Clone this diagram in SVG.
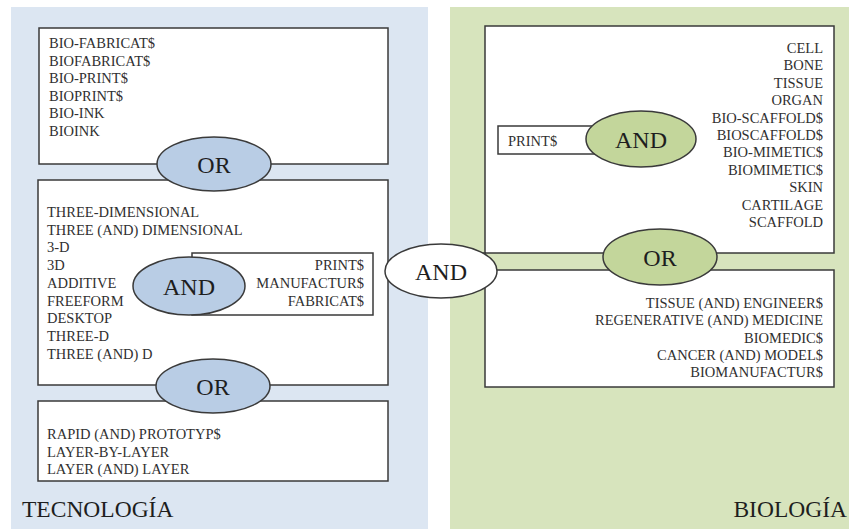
<svg xmlns="http://www.w3.org/2000/svg" width="849" height="529" viewBox="0 0 849 529">
  <style>
    .panel-tec { fill: #dce6f2; }
    .panel-bio { fill: #d7e4bd; }
    .box { fill: #ffffff; stroke: #3a3a3a; stroke-width: 1.5; }
    .op-blue { fill: #b9cde5; stroke: #3a3a3a; stroke-width: 1.5; }
    .op-green { fill: #c3d69b; stroke: #3a3a3a; stroke-width: 1.5; }
    .op-white { fill: #ffffff; stroke: #3a3a3a; stroke-width: 1.5; }
    .link { stroke: #3a3a3a; stroke-width: 1.5; fill: none; }
    .term { font-family: "Liberation Serif", "Times New Roman", serif; font-size: 14.5px; fill: #303030; }
    .right { text-anchor: end; }
    .op { font-family: "Liberation Serif", "Times New Roman", serif; font-size: 24px; fill: #1e1e1e; text-anchor: middle; }
    .title { font-family: "Liberation Serif", "Times New Roman", serif; font-size: 23.5px; fill: #1e1e1e; }
  </style>

  <rect width="849" height="529" fill="#ffffff"/>

  <!-- Background panels -->
  <rect id="panel-tecnologia" class="panel-tec" x="11" y="7" width="417" height="522"/>
  <rect id="panel-biologia" class="panel-bio" x="450" y="7" width="399" height="522"/>

  <!-- Technology terms -->
  <g id="tec-box1">
    <rect class="box" x="39" y="28" width="349" height="136"/>
    <text class="term" x="49" y="48">BIO-FABRICAT$</text>
    <text class="term" x="49" y="65.5">BIOFABRICAT$</text>
    <text class="term" x="49" y="83">BIO-PRINT$</text>
    <text class="term" x="49" y="100.5">BIOPRINT$</text>
    <text class="term" x="49" y="118">BIO-INK</text>
    <text class="term" x="49" y="135.5">BIOINK</text>
  </g>

  <g id="tec-box2">
    <rect class="box" x="38" y="180" width="350" height="205"/>
    <text class="term" x="47" y="217">THREE-DIMENSIONAL</text>
    <text class="term" x="47" y="234.7">THREE (AND) DIMENSIONAL</text>
    <text class="term" x="47" y="252.4">3-D</text>
    <text class="term" x="47" y="270.1">3D</text>
    <text class="term" x="47" y="287.8">ADDITIVE</text>
    <text class="term" x="47" y="305.5">FREEFORM</text>
    <text class="term" x="47" y="323.2">DESKTOP</text>
    <text class="term" x="47" y="340.9">THREE-D</text>
    <text class="term" x="47" y="358.6">THREE (AND) D</text>
  </g>

  <g id="tec-print-box">
    <rect class="box" x="192" y="253" width="181" height="62"/>
    <text class="term right" x="364" y="270">PRINT$</text>
    <text class="term right" x="364" y="288">MANUFACTUR$</text>
    <text class="term right" x="364" y="306">FABRICAT$</text>
  </g>

  <g id="tec-and">
    <ellipse class="op-blue" cx="189" cy="286" rx="56" ry="29"/>
    <text class="op" x="189" y="294.5">AND</text>
  </g>

  <g id="tec-box3">
    <rect class="box" x="38" y="401" width="350" height="80"/>
    <text class="term" x="47" y="439">RAPID (AND) PROTOTYP$</text>
    <text class="term" x="47" y="456.5">LAYER-BY-LAYER</text>
    <text class="term" x="47" y="474">LAYER (AND) LAYER</text>
  </g>

  <g id="tec-or1">
    <ellipse class="op-blue" cx="214" cy="164" rx="57" ry="27"/>
    <text class="op" x="214" y="173">OR</text>
  </g>

  <g id="tec-or2">
    <ellipse class="op-blue" cx="213" cy="386" rx="57" ry="27"/>
    <text class="op" x="213" y="395">OR</text>
  </g>

  <!-- Biology terms -->
  <g id="bio-box1">
    <rect class="box" x="485" y="26" width="349" height="227"/>
    <text class="term right" x="823" y="53">CELL</text>
    <text class="term right" x="823" y="70.4">BONE</text>
    <text class="term right" x="823" y="87.8">TISSUE</text>
    <text class="term right" x="823" y="105.2">ORGAN</text>
    <text class="term right" x="823" y="122.6">BIO-SCAFFOLD$</text>
    <text class="term right" x="823" y="140">BIOSCAFFOLD$</text>
    <text class="term right" x="823" y="157.4">BIO-MIMETIC$</text>
    <text class="term right" x="823" y="174.8">BIOMIMETIC$</text>
    <text class="term right" x="823" y="192.2">SKIN</text>
    <text class="term right" x="823" y="209.6">CARTILAGE</text>
    <text class="term right" x="823" y="227">SCAFFOLD</text>
  </g>

  <g id="bio-print-box">
    <rect class="box" x="498" y="126" width="100" height="28"/>
    <text class="term" x="508" y="146">PRINT$</text>
  </g>

  <g id="bio-and">
    <ellipse class="op-green" cx="641" cy="139" rx="55" ry="28"/>
    <text class="op" x="641" y="148">AND</text>
  </g>

  <g id="bio-box2">
    <rect class="box" x="485" y="270" width="349" height="117"/>
    <text class="term right" x="823" y="308">TISSUE (AND) ENGINEER$</text>
    <text class="term right" x="823" y="325.3">REGENERATIVE (AND) MEDICINE</text>
    <text class="term right" x="823" y="342.6">BIOMEDIC$</text>
    <text class="term right" x="823" y="359.9">CANCER (AND) MODEL$</text>
    <text class="term right" x="823" y="377.2">BIOMANUFACTUR$</text>
  </g>

  <g id="bio-or">
    <ellipse class="op-green" cx="660" cy="257" rx="57" ry="28"/>
    <text class="op" x="660" y="266">OR</text>
  </g>

  <!-- Connectors joining the central AND to the biology boxes -->
  <g id="connectors">
    <line class="link" x1="480" y1="253" x2="486" y2="253"/>
    <line class="link" x1="480" y1="270" x2="486" y2="270"/>
  </g>

  <g id="main-and">
    <ellipse class="op-white" cx="441" cy="271" rx="56" ry="27"/>
    <text class="op" x="441" y="280">AND</text>
  </g>

  <!-- Panel titles -->
  <text class="title" x="22" y="517">TECNOLOGÍA</text>
  <text class="title" x="847" y="517" text-anchor="end">BIOLOGÍA</text>
</svg>
